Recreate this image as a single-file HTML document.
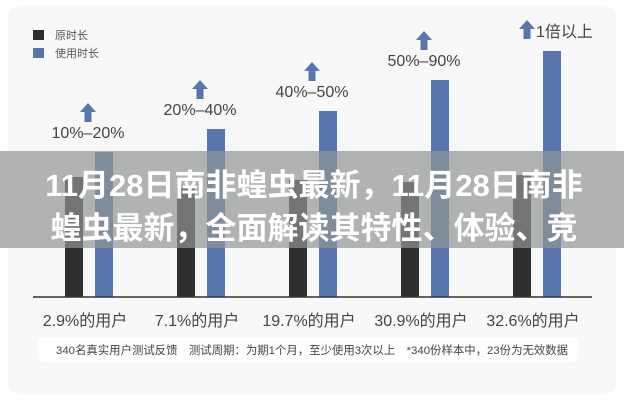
<!DOCTYPE html>
<html><head><meta charset="utf-8">
<style>
html,body{margin:0;padding:0;background:#fff;}
body{width:624px;height:400px;overflow:hidden;position:relative;font-family:"Liberation Sans","Noto Sans CJK SC",sans-serif;}
</style></head>
<body>
<svg id="chart" width="624" height="400" xmlns="http://www.w3.org/2000/svg" style="position:absolute;left:0;top:0">
  <rect x="8" y="6" width="608" height="388" rx="12" fill="#f8f8f8"/>
  <rect x="33" y="30" width="11" height="10" fill="#2e2e2e"/>
  <text x="55" y="39" font-size="11" fill="#555">原时长</text>
  <rect x="33" y="48" width="11" height="10" fill="#5676ad"/>
  <text x="55" y="57" font-size="11" fill="#555">使用时长</text>
  <g id="bars"></g>
  <line x1="33" y1="297" x2="592" y2="297" stroke="#333" stroke-width="1.5"/>
  <rect x="38" y="337" width="540" height="25" rx="6" fill="#fff"/>
  <text x="56" y="354" font-size="11.4" fill="#444">340名真实用户测试反馈　测试周期：为期1个月，至少使用3次以上　*340份样本中，23份为无效数据</text>
  <rect x="0" y="151" width="624" height="97" fill="rgba(145,149,147,0.7)"/>
  <text x="314" y="196" font-size="31" font-weight="bold" fill="#fff" text-anchor="middle">11月28日南非蝗虫最新，11月28日南非</text>
  <text x="314" y="239" font-size="31" font-weight="bold" fill="#fff" text-anchor="middle">蝗虫最新，全面解读其特性、体验、竞</text>
</svg>
<script>
const categories = ["2.9%的用户","7.1%的用户","19.7%的用户","30.9%的用户","32.6%的用户"];
const originalValues = [120, 109, 117, 115, 122];
const usageValues = [145, 168, 186, 217, 246];
const increaseLabels = ["10%–20%","20%–40%","40%–50%","50%–90%","1倍以上"];

const NS = "http://www.w3.org/2000/svg";
const g = document.getElementById("bars");
const baseY = 297, x0 = 65, step = 112, barW = 18;
function yScale(v){ return baseY - v; }
function xCat(i){ return x0 + i*step; }

categories.forEach((c,i)=>{
  const xd = xCat(i), xb = xd + 30;
  const d = document.createElementNS(NS,"rect");
  
  
  d.setAttribute("x", xd); d.setAttribute("y", yScale(originalValues[i]));
  d.setAttribute("width", barW); d.setAttribute("height", originalValues[i]);
  d.setAttribute("fill", "#2e2e2e");
  g.appendChild(d);
  const b = document.createElementNS(NS,"rect");
  
  
  b.setAttribute("x", xb); b.setAttribute("y", yScale(usageValues[i]));
  b.setAttribute("width", barW); b.setAttribute("height", usageValues[i]);
  b.setAttribute("fill", "#5676ad");
  g.appendChild(b);
  const top = yScale(usageValues[i]);
  const cx = xb + barW/2;
  const t = document.createElementNS(NS,"text");
  
  
  t.setAttribute("font-size","16"); t.setAttribute("fill","#444");
  t.textContent = increaseLabels[i];
  const ar = document.createElementNS(NS,"path");
  
  
  ar.setAttribute("fill","#5676ad");
  let ax, ay;
  if (i < 4) {
    t.setAttribute("x", cx - 16); t.setAttribute("y", top - 14);
    t.setAttribute("text-anchor","middle");
    ax = cx - 16; ay = top - 49;
  } else {
    t.setAttribute("x", cx - 16); t.setAttribute("y", top - 14);
    ax = cx - 25; ay = top - 31;
  }
  ar.setAttribute("d", `M${ax} ${ay} L${ax+8} ${ay+9} L${ax+3.5} ${ay+9} L${ax+3.5} ${ay+19} L${ax-3.5} ${ay+19} L${ax-3.5} ${ay+9} L${ax-8} ${ay+9} Z`);
  g.appendChild(ar); g.appendChild(t);
  const l = document.createElementNS(NS,"text");
  
  
  l.setAttribute("x", xd + 20); l.setAttribute("y", 326);
  l.setAttribute("font-size","16"); l.setAttribute("fill","#444");
  l.setAttribute("text-anchor","middle");
  l.textContent = c;
  g.appendChild(l);
});
</script>
</body></html>
